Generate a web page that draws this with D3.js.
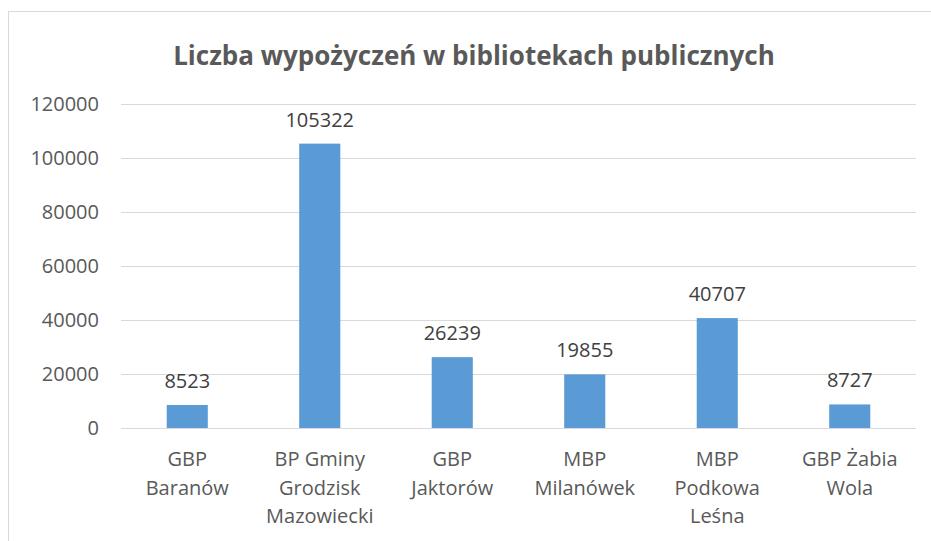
<!DOCTYPE html>
<html>
<head>
<meta charset="utf-8">
<script src="https://cdn.jsdelivr.net/npm/d3@7"></script>
<style>
  body { margin: 0; background: #fff; }
  svg { display: block; }
</style>
</head>
<body>
<div id="chart"></div>
<script>
var title = "Liczba wypożyczeń w bibliotekach publicznych";
var categories = ["GBP\nBaranów", "BP Gminy\nGrodzisk\nMazowiecki", "GBP\nJaktorów", "MBP\nMilanówek", "MBP\nPodkowa\nLeśna", "GBP Żabia\nWola"];
var values = [8523, 105322, 26239, 19855, 40707, 8727];
var yTicks = [0, 20000, 40000, 60000, 80000, 100000, 120000];

var width = 931, height = 541;
var margin = { top: 104, right: 15, bottom: 113, left: 121 };
var font = "'Open Sans', Lato, sans-serif";

var svg = d3.select("#chart").append("svg")
    .attr("width", width)
    .attr("height", height);

// chart frame
svg.append("rect")
    .attr("x", 8.5)
    .attr("y", 11.5)
    .attr("width", width)
    .attr("height", height)
    .attr("fill", "none")
    .attr("stroke", "#d9d9d9");

svg.append("text")
    .attr("x", 474)
    .attr("y", 65)
    .attr("text-anchor", "middle")
    .attr("font-family", font)
    .attr("font-weight", "bold")
    .attr("font-size", 26)
    .attr("fill", "#595959")
    .text(title);

var x = d3.scaleBand()
    .domain(categories)
    .range([margin.left, width - margin.right]);

var y = d3.scaleLinear()
    .domain([0, 120000])
    .range([height - margin.bottom, margin.top]);

var barWidth = x.bandwidth() * 0.31;

// gridlines
svg.append("g")
    .selectAll("line")
    .data(yTicks)
    .enter()
    .append("line")
    .attr("x1", margin.left)
    .attr("x2", width - margin.right)
    .attr("y1", function (d) { return Math.round(y(d)) + 0.5; })
    .attr("y2", function (d) { return Math.round(y(d)) + 0.5; })
    .attr("stroke", "#d9d9d9")
    .attr("stroke-width", 1);

// y axis labels
var yAxis = d3.axisLeft(y).tickValues(yTicks).tickSize(0).tickPadding(22).tickFormat(d3.format("d"));
var yg = svg.append("g")
    .attr("transform", "translate(" + margin.left + ",0)")
    .call(yAxis);
yg.select(".domain").remove();
yg.selectAll("text")
    .attr("font-family", font)
    .attr("font-size", 20)
    .attr("fill", "#595959");

// bars
svg.append("g")
    .selectAll("rect")
    .data(values)
    .enter()
    .append("rect")
    .attr("x", function (d, i) { return x(categories[i]) + (x.bandwidth() - barWidth) / 2; })
    .attr("y", function (d) { return y(d); })
    .attr("width", barWidth)
    .attr("height", function (d) { return y(0) - y(d); })
    .attr("fill", "#5b9bd5");

// value labels
svg.append("g")
    .selectAll("text")
    .data(values)
    .enter()
    .append("text")
    .attr("x", function (d, i) { return x(categories[i]) + x.bandwidth() / 2; })
    .attr("y", function (d) { return y(d) - 17; })
    .attr("text-anchor", "middle")
    .attr("font-family", font)
    .attr("font-size", 20)
    .attr("fill", "#404040")
    .text(function (d) { return d; });

// x labels, one tspan per line
var xl = svg.append("g")
    .selectAll("text")
    .data(categories)
    .enter()
    .append("text")
    .attr("text-anchor", "middle")
    .attr("font-family", font)
    .attr("font-size", 20)
    .attr("fill", "#595959")
    .attr("transform", function (d) { return "translate(" + (x(d) + x.bandwidth() / 2) + ",466)"; });
xl.selectAll("tspan")
    .data(function (d) { return d.split("\n"); })
    .enter()
    .append("tspan")
    .attr("x", 0)
    .attr("y", function (d, i) { return i * 28.5; })
    .text(function (d) { return d; });
</script>
</body>
</html>
